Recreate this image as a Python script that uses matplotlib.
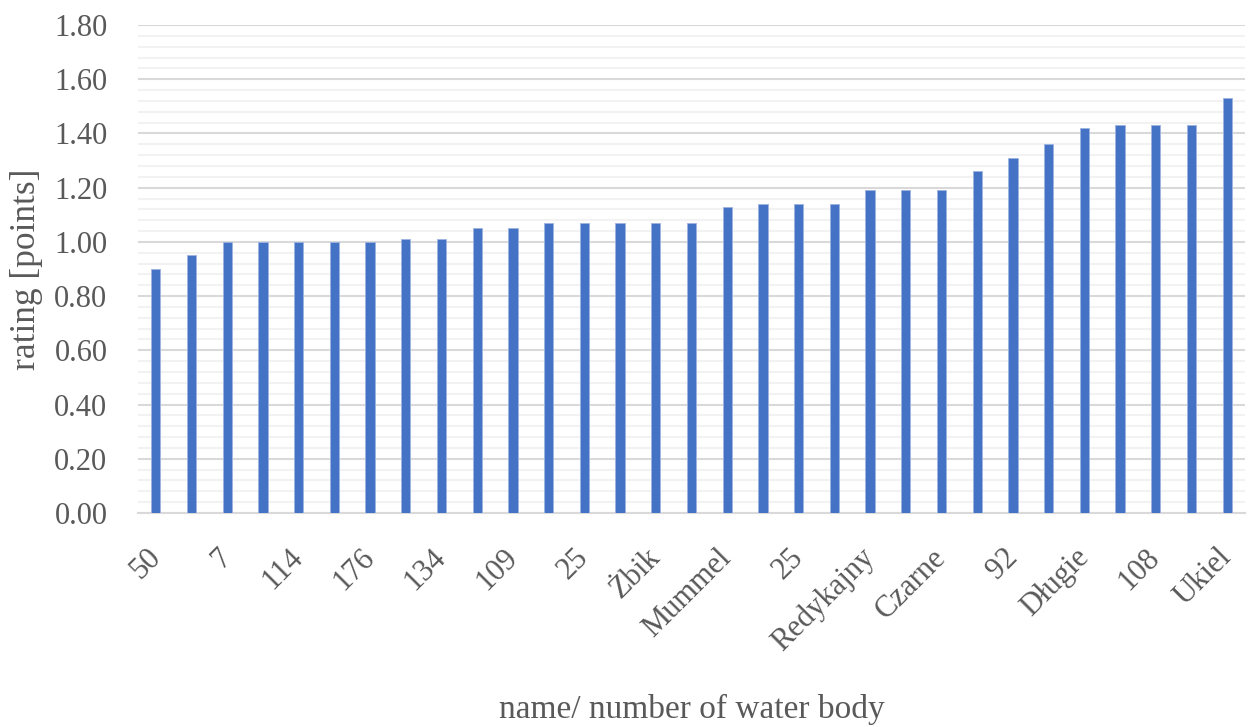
import matplotlib
matplotlib.use("Agg")
import matplotlib.pyplot as plt
from matplotlib.ticker import MultipleLocator, FormatStrFormatter

# Water bodies sorted by rating (only every other name is printed on the axis)
labels = ["50", "", "7", "", "114", "", "176", "", "134", "", "109", "",
          "25", "", "Żbik", "", "Mummel", "", "25", "", "Redykajny", "",
          "Czarne", "", "92", "", "Długie", "", "108", "", "Ukiel"]
ratings = [0.90, 0.95, 1.00, 1.00, 1.00, 1.00, 1.00, 1.01, 1.01, 1.05, 1.05,
           1.07, 1.07, 1.07, 1.07, 1.07, 1.13, 1.14, 1.14, 1.14, 1.19, 1.19,
           1.19, 1.26, 1.31, 1.36, 1.42, 1.43, 1.43, 1.43, 1.53]

plt.rcParams["font.family"] = ["Liberation Serif", "DejaVu Serif"]
text_color = "#595959"

fig = plt.figure(figsize=(12.48, 7.27), dpi=100)
ax = fig.add_axes([138 / 1248, 1 - 513 / 727, (1245 - 138) / 1248, (513 - 25) / 727])

x = list(range(len(ratings)))
ax.bar(x, ratings, width=0.26, color="#4472C4", edgecolor="#9db4e0",
       linewidth=0.6, zorder=3)

ax.set_xlim(-0.5, len(ratings) - 0.5)
ax.set_ylim(0, 1.8)
ax.yaxis.set_major_locator(MultipleLocator(0.2))
ax.yaxis.set_minor_locator(MultipleLocator(0.04))
ax.yaxis.set_major_formatter(FormatStrFormatter("%.2f"))
ax.grid(axis="y", which="major", color="#d9d9d9", linewidth=1.5, zorder=1)
ax.grid(axis="y", which="minor", color="#f2f2f2", linewidth=1.5, zorder=0)

for side in ("top", "right", "left"):
    ax.spines[side].set_visible(False)
ax.spines["bottom"].set_color("#d9d9d9")
ax.spines["bottom"].set_linewidth(1.5)

ax.tick_params(axis="both", which="both", length=0)
ax.tick_params(axis="y", labelsize=22, labelcolor=text_color, pad=22)
ax.set_xticks(x)
ax.set_xticklabels(labels, rotation=45, ha="right", va="center",
                   rotation_mode="anchor", fontsize=22, color=text_color)
ax.tick_params(axis="x", pad=29)

ax.set_ylabel("rating [points]", fontsize=25.5, color=text_color)
ax.yaxis.set_label_coords(-0.086, 0.5)
ax.set_xlabel("name/ number of water body", fontsize=24, color=text_color,
              va="baseline")
ax.xaxis.set_label_coords(0.5, -0.42)

fig.savefig("out.png", dpi=100, facecolor="white")
